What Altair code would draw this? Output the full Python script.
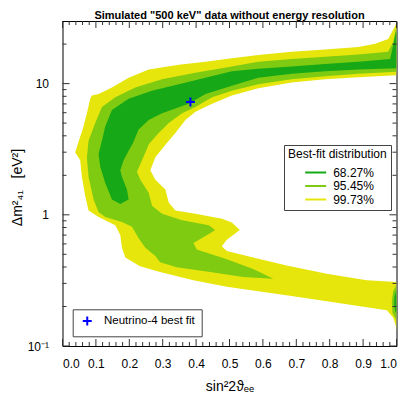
import altair as alt
import pandas as pd

TITLE = 'Simulated "500 keV" data without energy resolution'
LEVELS = ["68.27%", "95.45%", "99.73%"]
COLORS = ["#16a816", "#7ecb12", "#e6e60c"]

# 99.73% region (outer boundary of the C-shaped band)
yellow_x = [1.0, 0.996, 0.986, 0.975, 0.936, 0.886, 0.786, 0.686, 0.586, 0.507,
            0.428, 0.348, 0.258, 0.198, 0.148, 0.108, 0.088, 0.083, 0.073, 0.063,
            0.049, 0.038, 0.053, 0.058, 0.068, 0.078, 0.108, 0.158, 0.173, 0.178,
            0.188, 0.232, 0.292, 0.392, 0.492, 0.591, 0.691, 0.791, 0.891, 0.971,
            0.990, 0.997, 1.0, 1.0, 0.911, 0.791, 0.671, 0.571, 0.492, 0.477,
            0.492, 0.531, 0.507, 0.478, 0.398, 0.338, 0.318, 0.308, 0.278, 0.263,
            0.278, 0.310, 0.338, 0.368, 0.398, 0.448, 0.507, 0.586, 0.686, 0.786,
            0.886, 1.0]
yellow_y = [30.0, 27.5, 24.6, 21.9, 20.1, 19.0, 18.2, 17.5, 16.5, 15.6,
            14.7, 13.9, 12.8, 11.1, 9.34, 8.33, 8.11, 7.65, 5.93, 4.72,
            3.66, 2.99, 2.60, 1.95, 1.39, 1.08, 0.962, 0.833, 0.703, 0.560,
            0.472, 0.405, 0.366, 0.317, 0.283, 0.260, 0.239, 0.219, 0.201, 0.187,
            0.165, 0.146, 0.131, 0.308, 0.317, 0.355, 0.410, 0.472, 0.529, 0.576,
            0.645, 0.765, 0.873, 0.934, 1.02, 1.08, 1.24, 1.56, 1.85, 2.19,
            2.75, 3.47, 4.21, 5.29, 6.10, 7.03, 8.11, 9.23, 10.2, 10.8,
            11.2, 11.6]

# 95.45% region
light_x = [1.0, 0.996, 0.990, 0.975, 0.886, 0.786, 0.686, 0.586, 0.507, 0.398,
           0.298, 0.218, 0.158, 0.118, 0.098, 0.078, 0.073, 0.078, 0.093, 0.108,
           0.128, 0.178, 0.208, 0.228, 0.248, 0.278, 0.292, 0.342, 0.442, 0.541,
           0.631, 0.571, 0.492, 0.402, 0.392, 0.442, 0.457, 0.438, 0.358, 0.298,
           0.268, 0.258, 0.233, 0.223, 0.238, 0.259, 0.288, 0.318, 0.358, 0.398,
           0.448, 0.507, 0.586, 0.686, 0.786, 0.886, 1.0]
light_y = [27.5, 24.6, 20.7, 17.5, 16.7, 16.0, 15.4, 14.7, 13.5, 12.1,
           10.8, 9.34, 7.88, 6.64, 5.00, 3.66, 2.75, 1.95, 1.31, 1.05,
           0.962, 0.883, 0.811, 0.664, 0.560, 0.486, 0.434, 0.398, 0.366, 0.336,
           0.326, 0.387, 0.459, 0.544, 0.610, 0.723, 0.765, 0.833, 0.908, 1.02,
           1.17, 1.47, 1.85, 2.13, 2.60, 3.47, 4.21, 5.00, 5.93, 6.64,
           7.88, 8.83, 9.89, 10.8, 11.4, 11.9, 12.3]
light_blob_x = [1.0, 0.990, 0.986, 0.988, 1.0]
light_blob_y = [0.293, 0.260, 0.219, 0.179, 0.156]

# 68.27% region
dark_x = [0.998, 0.990, 0.981, 0.886, 0.786, 0.686, 0.586, 0.507, 0.428, 0.348,
          0.268, 0.198, 0.148, 0.128, 0.118, 0.108, 0.113, 0.128, 0.148, 0.173,
          0.198, 0.193, 0.178, 0.173, 0.183, 0.198, 0.211, 0.228, 0.258, 0.298,
          0.378, 0.428, 0.507, 0.586, 0.686, 0.786, 0.886, 1.0, 1.0]
dark_y = [24.6, 19.5, 15.4, 14.7, 14.1, 13.5, 13.0, 12.4, 11.1, 9.89,
          8.83, 7.65, 6.28, 4.72, 3.66, 2.91, 2.32, 1.75, 1.31, 1.21,
          1.31, 1.56, 1.95, 2.19, 2.60, 3.08, 3.53, 4.46, 5.29, 5.93,
          7.03, 8.33, 9.61, 11.1, 11.9, 12.4, 12.8, 13.1, 24.6]
dark_blob_x = [1.0, 0.994, 0.993, 0.996, 1.0]
dark_blob_y = [0.269, 0.239, 0.208, 0.185, 0.176]

# Neutrino-4 best fit
bf_x = [0.383]
bf_y = [7.23]

# axis ticks
x_major = [0.0, 0.1, 0.2, 0.3, 0.4, 0.5, 0.6, 0.7, 0.8, 0.9, 1.0]
x_minor = [0.02, 0.04, 0.06, 0.08, 0.12, 0.14, 0.16, 0.18, 0.22, 0.24, 0.26, 0.28,
           0.32, 0.34, 0.36, 0.38, 0.42, 0.44, 0.46, 0.48, 0.52, 0.54, 0.56, 0.58,
           0.62, 0.64, 0.66, 0.68, 0.72, 0.74, 0.76, 0.78, 0.82, 0.84, 0.86, 0.88,
           0.92, 0.94, 0.96, 0.98]
y_major = [0.1, 1.0, 10.0]
y_minor = [0.2, 0.3, 0.4, 0.5, 0.6, 0.7, 0.8, 0.9, 2, 3, 4, 5, 6, 7, 8, 9, 20]

W, H = 334, 325
FONT = "Liberation Sans"
PLUS = "M-1,0H1M0,-1V1"


def poly(xs, ys, level, name):
    return pd.DataFrame({"x": xs, "y": ys, "level": level, "poly": name,
                         "idx": list(range(len(xs)))})


df_yellow = poly(yellow_x, yellow_y, "99.73%", "y1")
df_light = pd.concat([poly(light_x, light_y, "95.45%", "l1"),
                      poly(light_blob_x, light_blob_y, "95.45%", "l2")])
df_dark = pd.concat([poly(dark_x, dark_y, "68.27%", "d1"),
                     poly(dark_blob_x, dark_blob_y, "68.27%", "d2")])

x_axis = alt.Axis(values=x_major, format=".1f", ticks=False, tickSize=0, domain=False,
                  grid=False, labelPadding=12, labelFontSize=12,
                  title="sin²2ϑₑₑ", titleFontSize=14, titleFontWeight="normal",
                  titleX=W / 2, titleY=40, titleBaseline="middle", titleAlign="center")
y_axis = alt.Axis(values=y_major, ticks=False, tickSize=0, domain=False, grid=False,
                  labelPadding=14, labelFontSize=12,
                  labelExpr="datum.value < 0.5 ? '10⁻¹' : (datum.value < 5 ? '1' : '10')",
                  title="Δm²₄₁\u00a0\u00a0\u00a0[eV²]", titleFontSize=14,
                  titleFontWeight="normal", titleX=-45, titleY=166,
                  titleBaseline="middle", titleAlign="center")

x_scale = alt.Scale(domain=[0, 1], nice=False, zero=False)
y_scale = alt.Scale(type="log", domain=[0.1, 30], nice=False)
X = alt.X("x:Q", scale=x_scale, axis=x_axis)
Y = alt.Y("y:Q", scale=y_scale, axis=y_axis)

color_legend = alt.Legend(
    title="Best-fit distribution", orient="none", legendX=221.5, legendY=124,
    direction="vertical", symbolType="M-2.625,-0.25H2.625V0.25H-2.625Z",
    symbolSize=64, symbolStrokeWidth=0, symbolOffset=21.7, labelOffset=11.5,
    labelFontSize=12, titleFontSize=12, titleFontWeight="normal", titleFont=FONT,
    labelFont=FONT, titlePadding=5.5, rowPadding=1.5, padding=4,
    strokeColor="#444", fillColor="white", labelColor="black", titleColor="black")
color = alt.Color("level:N", scale=alt.Scale(domain=LEVELS, range=COLORS),
                  legend=color_legend)


def region(df):
    return alt.Chart(df).mark_line(filled=True, strokeWidth=0, clip=True).encode(
        x=X, y=Y, color=color, detail="poly:N", order="idx:Q")


layers = [region(df_yellow), region(df_light), region(df_dark)]


def ticks_x(vals, length):
    d = pd.DataFrame({"x": vals})
    bottom = alt.Chart(d).mark_rule(color="#333", strokeWidth=1).encode(
        x=X, y=alt.value(H), y2=alt.value(H - length))
    top = alt.Chart(d).mark_rule(color="#333", strokeWidth=1).encode(
        x=X, y=alt.value(0), y2=alt.value(length))
    return [bottom, top]


def ticks_y(vals, length):
    d = pd.DataFrame({"y": vals})
    left = alt.Chart(d).mark_rule(color="#333", strokeWidth=1).encode(
        y=Y, x=alt.value(0), x2=alt.value(length))
    right = alt.Chart(d).mark_rule(color="#333", strokeWidth=1).encode(
        y=Y, x=alt.value(W), x2=alt.value(W - length))
    return [left, right]


layers += ticks_x(x_major, 7) + ticks_x(x_minor, 4)
layers += ticks_y(y_major, 7) + ticks_y(y_minor, 4)

shape_legend = alt.Legend(
    title=None, orient="none", legendX=10.2, legendY=288.3, padding=6,
    symbolSize=81, symbolStrokeWidth=2, symbolOffset=2.8, labelOffset=11,
    labelFontSize=11.5, labelFont=FONT, labelColor="black",
    strokeColor="#444", fillColor="white")
pt = alt.Chart(pd.DataFrame({"x": bf_x, "y": bf_y, "label": ["Neutrino-4 best fit"]})).mark_point(
    filled=False, color="#0000ff", strokeWidth=2, size=81, opacity=1).encode(
    x=X, y=Y,
    shape=alt.Shape("label:N", scale=alt.Scale(range=[PLUS]), legend=shape_legend))
layers.append(pt)

chart = alt.layer(*layers).properties(
    width=W, height=H,
    title=alt.Title(TITLE, fontSize=11, fontWeight="bold", font=FONT, offset=0,
                    anchor="middle", color="black"),
    autosize=alt.AutoSizeParams(type="none"),
    padding={"left": 54.5, "top": 13, "right": 2, "bottom": 50},
).configure(font=FONT).configure_view(stroke="black", strokeWidth=1).configure_axis(
    labelColor="black", titleColor="black", labelFont=FONT, titleFont=FONT)

chart.save("out.html", embed_options={"renderer": "svg", "actions": False})
